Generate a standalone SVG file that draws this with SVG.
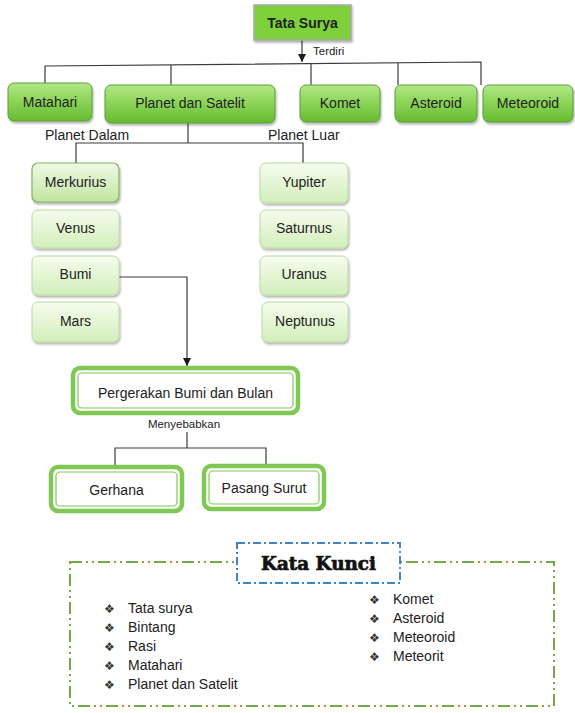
<svg xmlns="http://www.w3.org/2000/svg" width="575" height="713" viewBox="0 0 575 713">
<defs>
  <linearGradient id="gTop" x1="0" y1="0" x2="0" y2="1">
    <stop offset="0" stop-color="#b2e887"/>
    <stop offset="0.45" stop-color="#8ed55a"/>
    <stop offset="1" stop-color="#66bb31"/>
  </linearGradient>
  <linearGradient id="gPale" x1="0" y1="0" x2="0" y2="1">
    <stop offset="0" stop-color="#f6fcef"/>
    <stop offset="1" stop-color="#d2eeba"/>
  </linearGradient>
  <linearGradient id="gMerk" x1="0" y1="0" x2="0" y2="1">
    <stop offset="0" stop-color="#f0f9e6"/>
    <stop offset="1" stop-color="#c0e5a0"/>
  </linearGradient>
  <filter id="sh" x="-10%" y="-10%" width="130%" height="140%">
    <feDropShadow dx="1" dy="2" stdDeviation="1.2" flood-color="#000" flood-opacity="0.3"/>
  </filter>
  <marker id="arr" viewBox="0 0 10 10" refX="10" refY="5" markerWidth="8" markerHeight="8" orient="auto" markerUnits="userSpaceOnUse">
    <path d="M0,0 L10,5 L0,10 z" fill="#1a1a1a"/>
  </marker>
</defs>
<style>
  text { font-family: "Liberation Sans", Arial, sans-serif; fill: #222; }
  .c { text-anchor: middle; font-size: 14px; }
  .top rect { fill: url(#gTop); stroke: #5c9e36; stroke-width: 1; }
  .pale rect { fill: url(#gPale); stroke: #b9dca2; stroke-width: 1; }
  .dbl .o { fill: #fff; stroke: #80c854; stroke-width: 4.5; }
  .dbl .i { fill: none; stroke: #80c854; stroke-width: 1.2; }
  .conn { stroke: #3a3a3a; stroke-width: 1.2; fill: none; }
  .lbl { font-size: 14px; }
  .small { font-size: 11.5px; }
  .li { font-size: 14px; }
  text.bul { font-family: "DejaVu Sans", sans-serif; font-size: 12px; fill: #333; }
  text.kk { font-family: "DejaVu Serif", "Liberation Serif", serif; font-weight: bold; font-size: 18px; fill: #111; stroke: #111; stroke-width: 0.7; }
</style>

<g id="connectors">
  <line class="conn" x1="302" y1="40" x2="302" y2="62" marker-end="url(#arr)"/>
  <polyline class="conn" points="45,83 45,66 481,62 481,85"/>
  <line class="conn" x1="171" y1="65" x2="171" y2="85"/>
  <line class="conn" x1="311" y1="64" x2="311" y2="85"/>
  <line class="conn" x1="398" y1="63" x2="398" y2="85"/>
  <polyline class="conn" points="188,123 188,143"/>
  <polyline class="conn" points="76,163 76,143 303,143 303,163"/>
  <polyline class="conn" points="119,277 187,277 187,366" marker-end="url(#arr)"/>
  <line class="conn" x1="187" y1="432" x2="187" y2="448"/>
  <polyline class="conn" points="115,467 115,448 266,448 266,466"/>
</g>

<g id="label-terdiri"><text x="313" y="55" class="small">Terdiri</text></g>
<g id="label-planet-dalam"><text x="45" y="140" class="lbl">Planet Dalam</text></g>
<g id="label-planet-luar"><text x="268" y="140" class="lbl">Planet Luar</text></g>
<g id="label-menyebabkan"><text x="184" y="428" class="small" text-anchor="middle">Menyebabkan</text></g>

<g id="tata-surya">
  <rect x="254" y="5" width="97" height="35" fill="#7fd13b" stroke="#a9a9a9" stroke-width="1.5" filter="url(#sh)"/>
  <text x="302.5" y="27.5" class="c" font-weight="bold">Tata Surya</text>
</g>

<g id="matahari" class="top">
  <rect x="8" y="83" width="84" height="38" rx="6" filter="url(#sh)"/>
  <text x="50" y="107" class="c">Matahari</text>
</g>
<g id="planet-dan-satelit" class="top">
  <rect x="105" y="85" width="170" height="38" rx="6" filter="url(#sh)"/>
  <text x="190" y="108" class="c">Planet dan Satelit</text>
</g>
<g id="komet" class="top">
  <rect x="300" y="85" width="80" height="37" rx="6" filter="url(#sh)"/>
  <text x="340" y="108" class="c">Komet</text>
</g>
<g id="asteroid" class="top">
  <rect x="395" y="85" width="82" height="37" rx="6" filter="url(#sh)"/>
  <text x="436" y="108" class="c">Asteroid</text>
</g>
<g id="meteoroid" class="top">
  <rect x="483" y="85" width="90" height="37" rx="6" filter="url(#sh)"/>
  <text x="528" y="108" class="c">Meteoroid</text>
</g>

<g id="merkurius">
  <rect x="32" y="163" width="87" height="39" rx="6" fill="url(#gMerk)" stroke="#7fb562" stroke-width="1.2" filter="url(#sh)"/>
  <text x="75.5" y="187" class="c">Merkurius</text>
</g>
<g id="venus" class="pale">
  <rect x="32" y="210" width="87" height="38" rx="6" filter="url(#sh)"/>
  <text x="75.5" y="233" class="c">Venus</text>
</g>
<g id="bumi" class="pale">
  <rect x="32" y="256" width="87" height="39" rx="6" filter="url(#sh)"/>
  <text x="75.5" y="279" class="c">Bumi</text>
</g>
<g id="mars" class="pale">
  <rect x="32" y="302" width="87" height="40" rx="6" filter="url(#sh)"/>
  <text x="75.5" y="326" class="c">Mars</text>
</g>

<g id="yupiter" class="pale">
  <rect x="260" y="163" width="88" height="40" rx="6" filter="url(#sh)"/>
  <text x="304" y="187" class="c">Yupiter</text>
</g>
<g id="saturnus" class="pale">
  <rect x="260" y="210" width="88" height="38" rx="6" filter="url(#sh)"/>
  <text x="304" y="233" class="c">Saturnus</text>
</g>
<g id="uranus" class="pale">
  <rect x="260" y="256" width="88" height="39" rx="6" filter="url(#sh)"/>
  <text x="304" y="279" class="c">Uranus</text>
</g>
<g id="neptunus" class="pale">
  <rect x="262" y="302" width="86" height="40" rx="6" filter="url(#sh)"/>
  <text x="305" y="326" class="c">Neptunus</text>
</g>

<g id="pergerakan" class="dbl">
  <rect class="o" x="73" y="368" width="225" height="45" rx="7"/>
  <rect class="i" x="78" y="373" width="215" height="35" rx="4"/>
  <text x="185.5" y="398" class="c">Pergerakan Bumi dan Bulan</text>
</g>
<g id="gerhana" class="dbl">
  <rect class="o" x="51" y="467" width="131" height="44" rx="7"/>
  <rect class="i" x="56" y="472" width="121" height="34" rx="4"/>
  <text x="116.5" y="495" class="c">Gerhana</text>
</g>
<g id="pasang-surut" class="dbl">
  <rect class="o" x="204" y="466" width="120" height="43" rx="7"/>
  <rect class="i" x="209" y="471" width="110" height="33" rx="4"/>
  <text x="264" y="493" class="c">Pasang Surut</text>
</g>

<g id="kata-kunci">
  <rect x="70" y="562" width="484" height="144" fill="none" stroke="#77a847" stroke-width="2" stroke-dasharray="12 4 2 4 2 4"/>
  <rect x="237" y="543" width="163" height="40" fill="#fff" stroke="#3b86c6" stroke-width="2" stroke-dasharray="8 3 2 3"/>
  <text x="318.5" y="570" class="kk" text-anchor="middle" textLength="115" lengthAdjust="spacingAndGlyphs">Kata Kunci</text>
  <g id="list-left">
    <text x="104" y="613" class="bul">❖</text><text x="128" y="613" class="li">Tata surya</text>
    <text x="104" y="632" class="bul">❖</text><text x="128" y="632" class="li">Bintang</text>
    <text x="104" y="651" class="bul">❖</text><text x="128" y="651" class="li">Rasi</text>
    <text x="104" y="670" class="bul">❖</text><text x="128" y="670" class="li">Matahari</text>
    <text x="104" y="689" class="bul">❖</text><text x="128" y="689" class="li">Planet dan Satelit</text>
  </g>
  <g id="list-right">
    <text x="369" y="604" class="bul">❖</text><text x="393" y="604" class="li">Komet</text>
    <text x="369" y="623" class="bul">❖</text><text x="393" y="623" class="li">Asteroid</text>
    <text x="369" y="642" class="bul">❖</text><text x="393" y="642" class="li">Meteoroid</text>
    <text x="369" y="661" class="bul">❖</text><text x="393" y="661" class="li">Meteorit</text>
  </g>
</g>
</svg>
